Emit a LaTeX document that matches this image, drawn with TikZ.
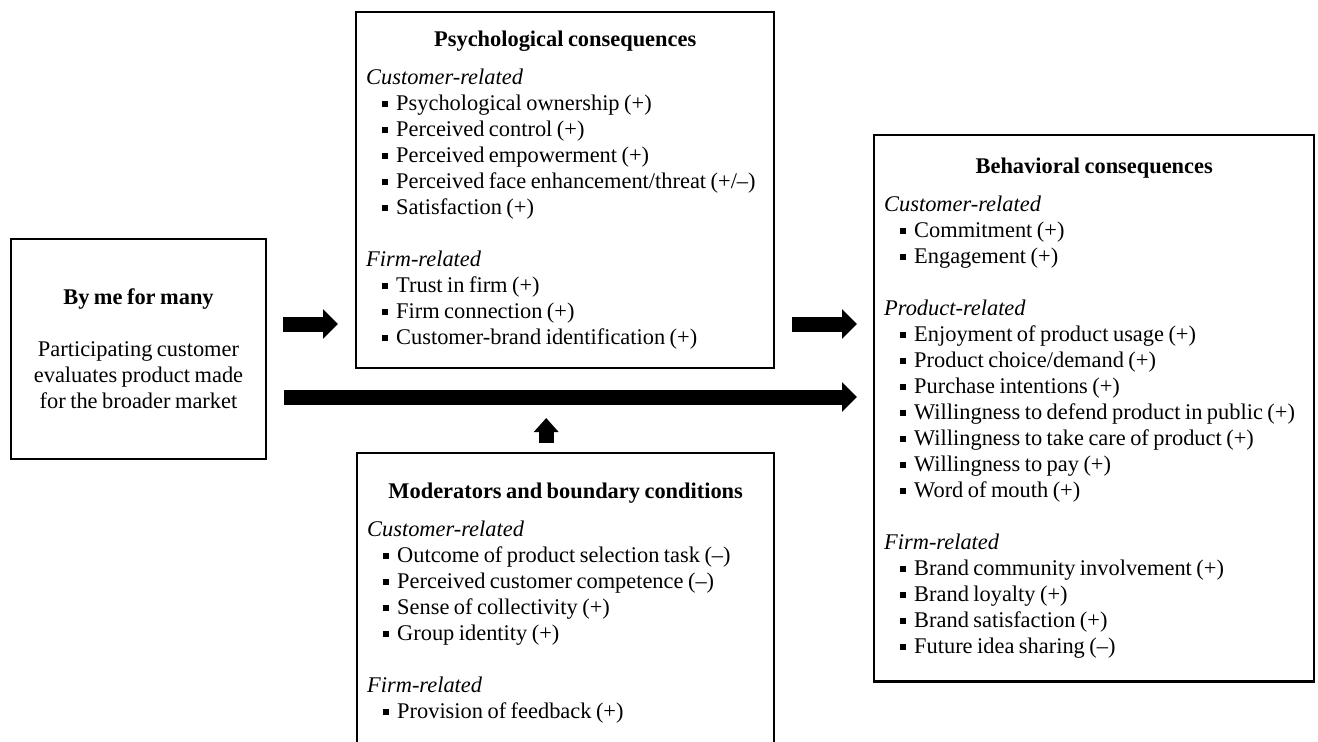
\documentclass[tikz,border=0pt]{standalone}
\usepackage{fontspec}
\setmainfont{Liberation Serif}[WordSpace=0.8]
\usepackage{tikz}
\usetikzlibrary{arrows.meta}
\usetikzlibrary{positioning}
\newcommand{\sqitem}{\hspace*{8pt}\rule[1.8pt]{3pt}{3pt}\hspace{4pt}}
\newcommand{\boxtitle}[1]{\makebox[\linewidth][c]{\bfseries #1}}
\tikzset{x=0.5pt, y=-0.5pt, every text node part/.style={font={\fontsize{11.2}{13}\selectfont}}}
\tikzstyle{block} = [draw=black, fill=white, line width=1.2pt, inner xsep=5pt, inner ysep=9pt]
\tikzstyle{listblock} = [block, anchor=north west, align=left, execute at begin node={\spaceskip=0.2em\relax}]
\tikzstyle{bigarrow} = [draw, line width=7.5pt, -{Triangle[length=7.5pt,width=14.5pt]}]
\tikzstyle{uparrow} = [draw, line width=7.5pt, -{Triangle[length=7pt,width=12pt]}]

\begin{document}
\begin{tikzpicture}
  \useasboundingbox (0,0) rectangle (1318,741);
  \node[block, minimum width=127.5pt, minimum height=110pt, align=center] (bymany) at (138.5,349)
    {\textbf{By me for many}\\[13pt]
     Participating customer\\ evaluates product made\\ for the broader market};
  \node[listblock, text width=199pt, minimum height=178pt] (psych) at (355,11)
    {\boxtitle{Psychological consequences}\\[6pt]
     \textit{Customer-related}\\
     \sqitem Psychological ownership (+)\\
     \sqitem Perceived control (+)\\
     \sqitem Perceived empowerment (+)\\
     \sqitem Perceived face enhancement/threat (+/–)\\
     \sqitem Satisfaction (+)\\[13pt]
     \textit{Firm-related}\\
     \sqitem Trust in firm (+)\\
     \sqitem Firm connection (+)\\
     \sqitem Customer-brand identification (+)};
  \node[listblock, text width=198.5pt, inner ysep=15pt] (mod) at (356,452)
    {\boxtitle{Moderators and boundary conditions}\\[6pt]
     \textit{Customer-related}\\
     \sqitem Outcome of product selection task (–)\\
     \sqitem Perceived customer competence (–)\\
     \sqitem Sense of collectivity (+)\\
     \sqitem Group identity (+)\\[13pt]
     \textit{Firm-related}\\
     \sqitem Provision of feedback (+)};
  \node[listblock, text width=210pt, inner ysep=11.5pt] (behav) at (873,134)
    {\boxtitle{Behavioral consequences}\\[6pt]
     \textit{Customer-related}\\
     \sqitem Commitment (+)\\
     \sqitem Engagement (+)\\[13pt]
     \textit{Product-related}\\
     \sqitem Enjoyment of product usage (+)\\
     \sqitem Product choice/demand (+)\\
     \sqitem Purchase intentions (+)\\
     \sqitem Willingness to defend product in public (+)\\
     \sqitem Willingness to take care of product (+)\\
     \sqitem Willingness to pay (+)\\
     \sqitem Word of mouth (+)\\[13pt]
     \textit{Firm-related}\\
     \sqitem Brand community involvement (+)\\
     \sqitem Brand loyalty (+)\\
     \sqitem Brand satisfaction (+)\\
     \sqitem Future idea sharing (–)};
  \coordinate (upperrow) at ([yshift=12.5pt]bymany.east);
  \coordinate (lowerrow) at ([yshift=-24pt]bymany.east);
  \coordinate (modtip) at ([xshift=-9.75pt,yshift=17pt]mod.north);
  \draw[bigarrow, shorten <=8pt, shorten >=8.5pt] (upperrow) -- (psych.west |- upperrow);
  \draw[bigarrow, shorten <=8.5pt, shorten >=8pt] (psych.east |- upperrow) -- (behav.west |- upperrow);
  \draw[bigarrow, shorten <=8.5pt, shorten >=8pt] (lowerrow) -- (behav.west |- lowerrow);
  \draw[uparrow, shorten <=4.5pt] ([xshift=-9.75pt]mod.north) -- (modtip);
\end{tikzpicture}
\end{document}
